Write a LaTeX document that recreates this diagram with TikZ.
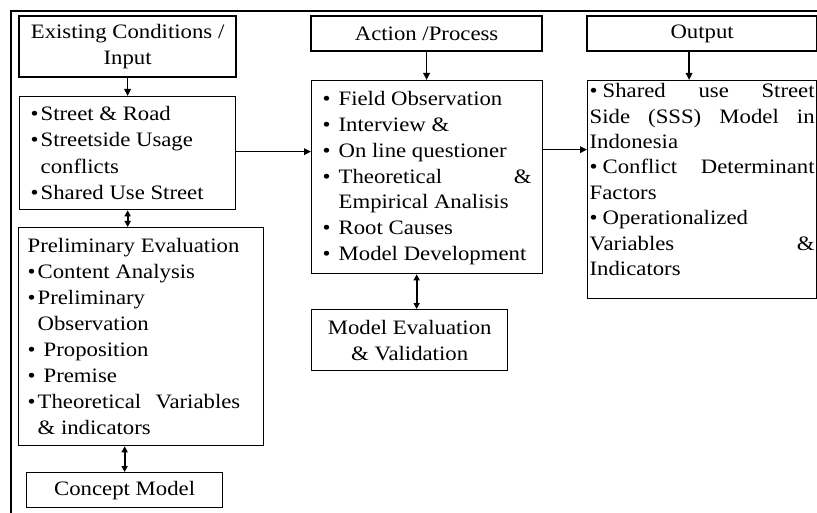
\documentclass[tikz,border=0pt]{standalone}
\usepackage{fontspec}
\setmainfont{Liberation Serif}[FakeStretch=1.11]
\usetikzlibrary{arrows.meta,calc}
\newcommand\bl[1]{\leavevmode\makebox[#1][l]{\textbullet}}
\newcommand\jl[2]{\leavevmode\hbox to #1{#2}}
\begin{document}
\begin{tikzpicture}[x=1pt,y=-1pt,
  every node/.style={font=\fontsize{20.5}{26}\selectfont},
  head/.style={draw, line width=2.2pt, inner sep=0pt, align=center, anchor=north west},
  plainbox/.style={draw, line width=1.3pt, inner sep=0pt, align=center, anchor=north west},
  lbox/.style={draw, line width=1.3pt, inner ysep=0pt, anchor=north west},
  arr/.style={line width=1.7pt, -{Triangle[length=7pt,width=6.5pt]}},
  darr/.style={line width=1.7pt, {Triangle[length=6pt,width=6pt]}-{Triangle[length=6pt,width=6pt]}}]
\useasboundingbox (0,0) rectangle (817,513);
\draw[line width=1.8pt] (11,513) -- (11,11) -- (817,11);

% left column
\node[head, minimum width=217pt, minimum height=61pt] (exist) at (18,15) {Existing Conditions /\\Input};
\node[lbox, inner xsep=11pt] (street) at (19,96) {\parbox[c][113pt][t]{194pt}{\raggedright\fontsize{20.5}{26.3}\selectfont
  \bl{10pt}\rule{0pt}{24pt}Street \& Road\\
  \bl{10pt}Streetside Usage\\
  \hspace*{10pt}conflicts\\
  \bl{10pt}Shared Use Street}};
\node[lbox, inner xsep=9pt] (prel) at (18,227) {\parbox[c][218pt][t]{227pt}{\raggedright\fontsize{20.5}{26}\selectfont
  \rule{0pt}{25pt}Preliminary Evaluation\\
  \bl{10pt}Content Analysis\\
  \bl{10pt}Preliminary\\
  \hspace*{10pt}Observation\\
  \bl{16pt}Proposition\\
  \bl{16pt}Premise\\
  \bl{10pt}Theoretical\hspace{0.7em}Variables\\
  \hspace*{10pt}\& indicators}};
\node[plainbox, minimum width=196pt, minimum height=35pt] (concept) at (26,472) {Concept Model};

% middle column
\node[head, minimum width=231pt, minimum height=35pt] (acth) at (310,15) {Action /Process};
\node[lbox, inner xsep=11pt] (act) at (311,80) {\parbox[c][193pt][t]{209pt}{\raggedright\fontsize{20.5}{25.8}\selectfont
  \bl{16pt}\rule{0pt}{25pt}Field Observation\\
  \bl{16pt}Interview \&\\
  \bl{16pt}On line questioner\\
  \bl{16pt}\jl{193pt}{Theoretical\hfill\&}\\
  \hspace*{16pt}Empirical Analisis\\
  \bl{16pt}Root Causes\\
  \bl{16pt}Model Development}};
\node[plainbox, minimum width=196pt, minimum height=61pt] (meval) at (311,309) {Model Evaluation\\\& Validation};

% right column
\node[head, minimum width=230pt, minimum height=35pt] (outh) at (586,15) {Output};
\node[lbox, inner xsep=2pt] (outl) at (587,80) {\parbox[c][218pt][t]{225pt}{\raggedright\fontsize{20.5}{25.4}\selectfont
  \bl{13pt}\rule{0pt}{17pt}\jl{212pt}{Shared\hfill use\hfill Street}\\
  \jl{225pt}{Side\hfill (SSS)\hfill Model\hfill in}\\
  Indonesia\\
  \bl{13pt}\jl{212pt}{Conflict\hfill Determinant}\\
  Factors\\
  \bl{13pt}Operationalized\\
  \jl{225pt}{Variables\hfill\&}\\
  Indicators}};

% connectors
\draw[arr] (exist.south) -- (exist.south |- street.north);
\draw[darr] (street.south) -- (street.south |- prel.north);
\draw[darr] (concept.north |- prel.south) -- (concept.north);
\draw[arr] ([yshift=1.5pt]street.east) -- ([yshift=1.5pt]street.east -| act.west);
\draw[arr] (acth.south) -- (acth.south |- act.north);
\draw[arr] ([yshift=27.5pt]act.east) -- ([yshift=27.5pt]act.east -| outl.west);
\draw[arr] ([xshift=-13pt]outh.south) -- ([xshift=-13pt]outh.south |- outl.north);
\draw[darr] ([xshift=7pt]meval.north |- act.south) -- ([xshift=7pt]meval.north);
\end{tikzpicture}
\end{document}
